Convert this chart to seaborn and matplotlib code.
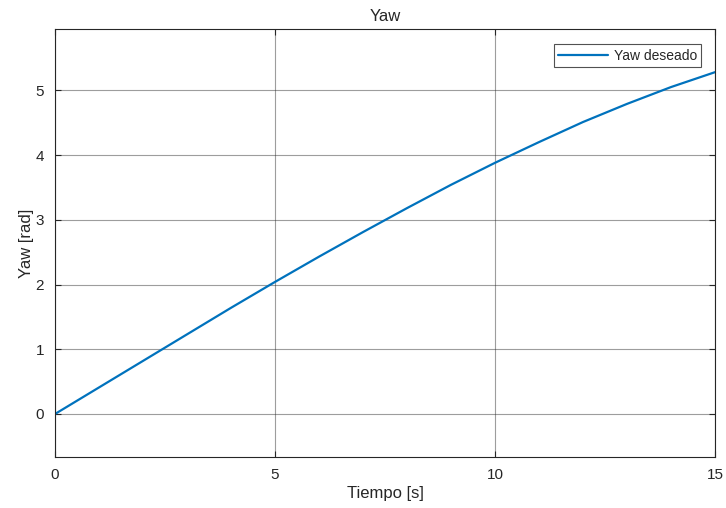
import numpy as np
import pandas as pd
import matplotlib
matplotlib.use("Agg")
import matplotlib.pyplot as plt
import seaborn as sns

# Values
tiempo = [0, 1, 2, 3, 4, 5, 6, 7, 8, 9, 10, 11, 12, 13, 14, 15]
yaw_deseado = [0.0, 0.41, 0.82, 1.23, 1.64, 2.04, 2.43, 2.81, 3.18, 3.54,
               3.88, 4.20, 4.51, 4.79, 5.05, 5.28]

df = pd.DataFrame({"Tiempo [s]": tiempo, "Yaw [rad]": yaw_deseado})

sns.set_style("white")
plt.rcParams['font.family'] = ['Liberation Sans', 'DejaVu Sans']

fig = plt.figure(figsize=(7.26, 5.08), dpi=100)
ax = fig.add_axes([0.0758, 0.101, 0.909, 0.841])

sns.lineplot(data=df, x="Tiempo [s]", y="Yaw [rad]", ax=ax, color="#0072BD",
             linewidth=1.6, label="Yaw deseado")

ax.set_xlim(0, 15)
ax.set_ylim(-0.66, 5.94)
ax.set_xticks([0, 5, 10, 15])
ax.set_yticks([0, 1, 2, 3, 4, 5])
ax.grid(True, color="#262626", alpha=0.45, linewidth=0.8)
for s in ax.spines.values():
    s.set_color("#262626")
    s.set_linewidth(0.8)
ax.tick_params(direction="in", length=4, color="#262626", labelcolor="#262626",
               labelsize=11, top=True, right=True, bottom=True, left=True, pad=8)
ax.set_title("Yaw", fontsize=12, color="#262626", pad=6)
ax.set_xlabel("Tiempo [s]", fontsize=12, color="#262626", labelpad=3)
ax.set_ylabel("Yaw [rad]", fontsize=12, color="#262626", labelpad=1)

leg = ax.legend(loc="upper right", fontsize=10, frameon=True, fancybox=False,
                edgecolor="#262626", handlelength=3.6, handletextpad=0.4,
                borderpad=0.3, borderaxespad=0,
                bbox_to_anchor=(0.979, 0.965))
leg.get_frame().set_linewidth(0.8)
for t in leg.get_texts():
    t.set_color("#262626")

fig.savefig("out.png", dpi=100)
